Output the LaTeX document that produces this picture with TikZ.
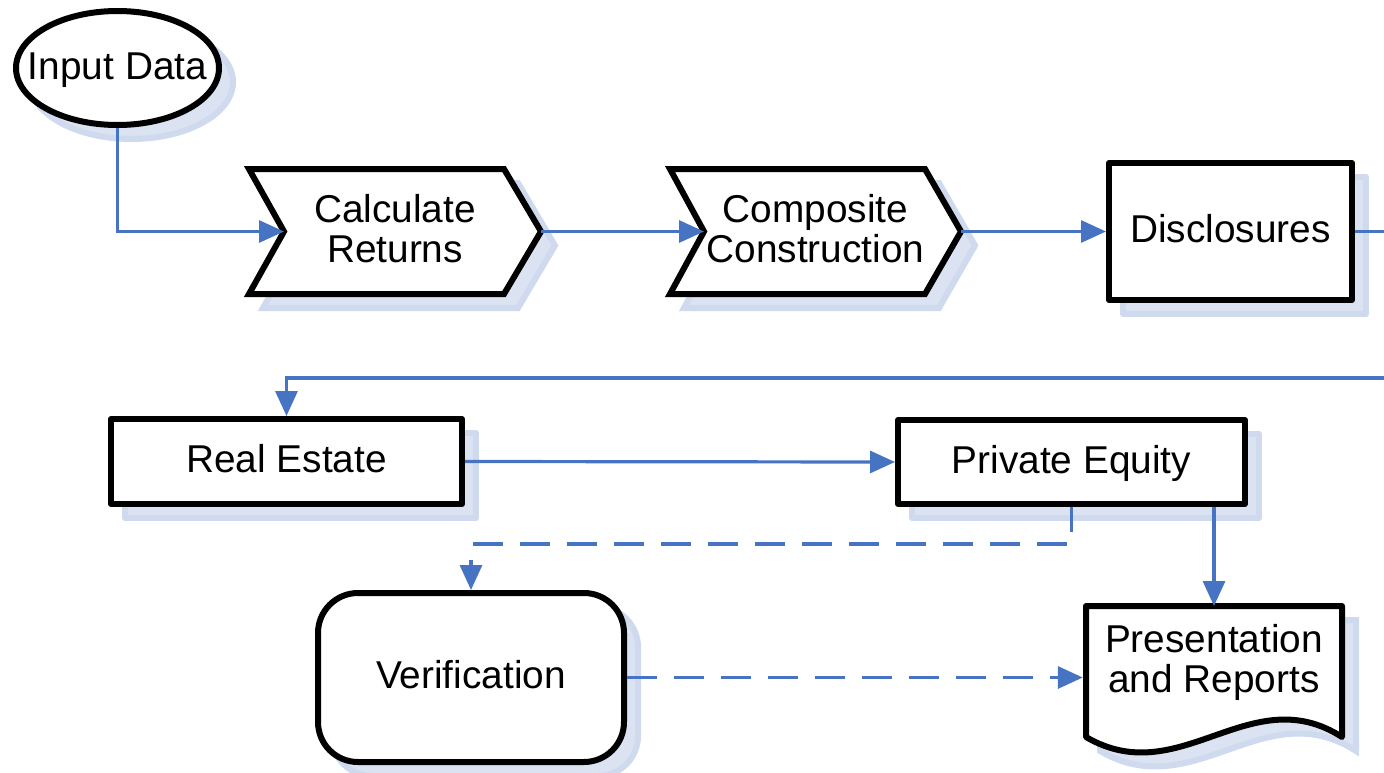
\documentclass[tikz,border=0pt]{standalone}
\usepackage{fontspec}
\setmainfont{Liberation Sans}
\usetikzlibrary{arrows.meta,shapes.geometric,shadows,calc}

\definecolor{flowblue}{RGB}{70,116,195}
\definecolor{shadefill}{RGB}{219,227,242}
\definecolor{shadeedge}{RGB}{207,218,238}

\tikzset{
  boxshadow/.style={drop shadow={shadow xshift=14pt, shadow yshift=-14pt,
      opacity=1, fill=shadefill, draw=shadeedge, line width=6pt}},
  outline/.style={draw=black, line width=6pt, fill=white, boxshadow},
  txt/.style={font=\fontsize{38.8}{40}\selectfont, align=center, inner sep=0pt},
  oneline/.style={txt, text height=29pt, text depth=7pt},
  boxnode/.style={outline, oneline, rectangle, line join=round},
  link/.style={draw=flowblue, line width=3.2pt},
  conn/.style={link, -{Triangle[length=25pt,width=22pt]}},
  dashline/.style={dash pattern=on 30pt off 17pt},
}

\begin{document}
\begin{tikzpicture}[x=1pt, y=-1pt]
\useasboundingbox (0,0) rectangle (1384,772);
\clip (0,0) rectangle (1384,772);

% start terminal
\node[outline, ellipse, oneline, minimum width=203pt, minimum height=114pt]
  (in) at (117.5,68) {\makebox[0pt]{Input Data}};

% process chevrons
\draw[outline, line join=miter]
  (249,169) -- (504,169) -- (541,231.5) -- (504,294) -- (249,294) -- (284,231.5) -- cycle;
\coordinate (calc-in)  at (284,231.5);
\coordinate (calc-out) at (541,231.5);
\node[txt] (calc) at (395,228.5) {Calculate\\Returns};

\draw[outline, line join=miter]
  (670,169) -- (925,169) -- (961,231.5) -- (925,294) -- (670,294) -- (704,231.5) -- cycle;
\coordinate (comp-in)  at (704,231.5);
\coordinate (comp-out) at (961,231.5);
\node[txt] (comp) at (815.5,228.5) {Composite\\Construction};

% boxes
\node[boxnode, minimum width=243pt, minimum height=137pt] (disc) at (1230.5,231.5) {Disclosures};
\node[boxnode, minimum width=351pt, minimum height=85pt]  (re)   at (286.5,461.5) {Real Estate};
\node[boxnode, minimum width=347pt, minimum height=84pt]  (pe)   at (1071.5,462) {Private Equity};
\node[boxnode, rounded corners=40pt, minimum width=306pt, minimum height=169pt]
  (ver) at (471,677.5) {Verification};

% document shape
\draw[outline, line join=round]
  (1086,606) -- (1342,606) -- (1342,737)
  .. controls (1250,678) and (1180,792) .. (1086,737) -- cycle;
\coordinate (pres-top) at (1214,606);
\node[txt, minimum width=262pt] (pres) at (1214,662) {Presentation\\and Reports};

% connectors
\draw[conn] (in.south) |- (calc-in);
\draw[conn] (calc-out) -- (comp-in);
\draw[conn] (comp-out) -- (disc.west);
\draw[conn] (disc.east) -- ++(60,0) |- ($(re.north)+(0,-38)$) -- (re.north);
\draw[conn] (re.east) -- (pe.west);
\draw[conn, dashline, dash phase=5pt] (pe.south) -- ++(0,37) -| (ver.north);
\draw[conn] (pe.south -| pres-top) -- (pres-top);
\draw[conn, dashline] (ver.east) -- (ver.east -| pres.west);
\end{tikzpicture}
\end{document}
